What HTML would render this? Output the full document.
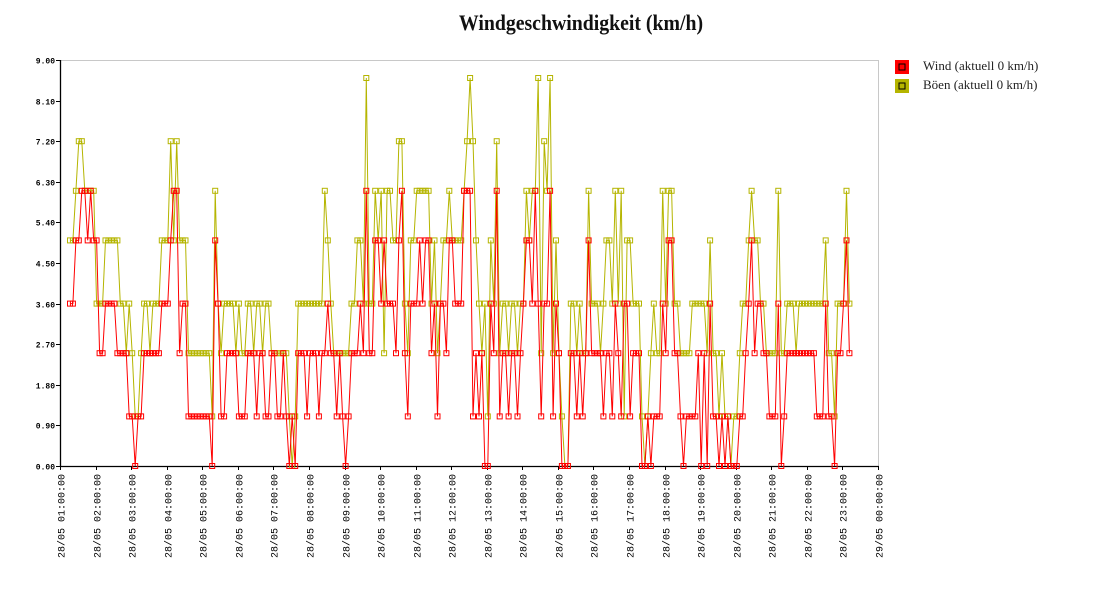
<!DOCTYPE html>
<html><head><meta charset="utf-8"><style>
html,body{margin:0;padding:0;background:#fff;width:1100px;height:600px;overflow:hidden}
svg{display:block}
</style></head><body>
<svg id="chart" width="1100" height="600" xmlns="http://www.w3.org/2000/svg">
<text x="581" y="30" text-anchor="middle" font-family="Liberation Serif, serif" font-weight="bold" font-size="22" fill="#111" transform="translate(581 0) scale(0.9 1) translate(-581 0)">Windgeschwindigkeit (km/h)</text>
<g>
 <g>
  <rect x="895" y="60" width="14" height="14" fill="#ff0000"/>
  <rect x="899" y="64" width="6" height="6" fill="none" stroke="#000" stroke-width="1"/>
  <text x="923" y="70" font-family="Liberation Serif, serif" font-size="13" fill="#222">Wind (aktuell 0 km/h)</text>
 </g>
 <g>
  <rect x="895" y="79" width="14" height="14" fill="#b5b500"/>
  <rect x="899" y="83" width="6" height="6" fill="none" stroke="#000" stroke-width="1"/>
  <text x="923" y="89" font-family="Liberation Serif, serif" font-size="13" fill="#222">Böen (aktuell 0 km/h)</text>
 </g>
</g>
<g id="axes"></g>
<g id="series"></g>
</svg>
<script>
const yTicks=[0,0.9,1.8,2.7,3.6,4.5,5.4,6.3,7.2,8.1,9.0];
const xTickHours=[1,2,3,4,5,6,7,8,9,10,11,12,13,14,15,16,17,18,19,20,21,22,23,24];
const startHour=1.28;
const stepHours=1/12;
const wind=[
3.6,3.6,5,5,6.1,6.1,5,6.1,5,5,2.5,2.5,
3.6,3.6,3.6,3.6,2.5,2.5,2.5,2.5,1.1,1.1,0,1.1,
1.1,2.5,2.5,2.5,2.5,2.5,2.5,3.6,3.6,3.6,5,6.1,
6.1,2.5,3.6,3.6,1.1,1.1,1.1,1.1,1.1,1.1,1.1,1.1,
0,5,3.6,1.1,1.1,2.5,2.5,2.5,2.5,1.1,1.1,1.1,
2.5,2.5,2.5,1.1,2.5,2.5,1.1,1.1,2.5,2.5,1.1,1.1,
2.5,1.1,0,1.1,0,2.5,2.5,2.5,1.1,2.5,2.5,2.5,
1.1,2.5,2.5,3.6,2.5,2.5,1.1,2.5,1.1,0,1.1,2.5,
2.5,2.5,3.6,2.5,6.1,2.5,2.5,5,5,3.6,5,3.6,
3.6,3.6,2.5,5,6.1,2.5,1.1,3.6,3.6,3.6,5,3.6,
5,5,2.5,3.6,1.1,3.6,3.6,2.5,5,5,3.6,3.6,
3.6,6.1,6.1,6.1,1.1,2.5,1.1,2.5,0,0,3.6,2.5,
6.1,1.1,2.5,2.5,1.1,2.5,2.5,1.1,2.5,3.6,5,5,
3.6,6.1,3.6,1.1,3.6,3.6,6.1,1.1,3.6,2.5,0,0,
0,2.5,2.5,1.1,2.5,1.1,2.5,5,2.5,2.5,2.5,2.5,
1.1,2.5,2.5,1.1,3.6,2.5,1.1,3.6,3.6,1.1,2.5,2.5,
2.5,0,0,1.1,0,1.1,1.1,1.1,3.6,2.5,5,5,
2.5,2.5,1.1,0,1.1,1.1,1.1,1.1,2.5,0,2.5,0,
3.6,1.1,1.1,0,1.1,0,1.1,0,0,0,1.1,1.1,
2.5,3.6,5,2.5,3.6,3.6,2.5,2.5,1.1,1.1,1.1,3.6,
0,1.1,2.5,2.5,2.5,2.5,2.5,2.5,2.5,2.5,2.5,2.5,
1.1,1.1,1.1,3.6,1.1,1.1,0,2.5,2.5,3.6,5,2.5
];
const gusts=[
5,5,6.1,7.2,7.2,6.1,6.1,6.1,6.1,3.6,3.6,3.6,
5,5,5,5,5,3.6,3.6,2.5,3.6,2.5,1.1,1.1,
2.5,3.6,3.6,2.5,3.6,3.6,3.6,5,5,5,7.2,5,
7.2,5,5,5,2.5,2.5,2.5,2.5,2.5,2.5,2.5,2.5,
1.1,6.1,3.6,2.5,3.6,3.6,3.6,3.6,2.5,3.6,2.5,2.5,
3.6,3.6,2.5,3.6,3.6,2.5,3.6,3.6,2.5,2.5,2.5,2.5,
2.5,2.5,1.1,0,1.1,3.6,3.6,3.6,3.6,3.6,3.6,3.6,
3.6,3.6,6.1,5,3.6,2.5,2.5,2.5,2.5,2.5,2.5,3.6,
3.6,5,5,3.6,8.6,3.6,3.6,6.1,5,6.1,2.5,6.1,
6.1,5,5,7.2,7.2,3.6,2.5,5,5,6.1,6.1,6.1,
6.1,6.1,3.6,5,2.5,3.6,5,5,6.1,5,5,5,
5,6.1,7.2,8.6,7.2,5,3.6,2.5,3.6,1.1,5,3.6,
7.2,2.5,3.6,3.6,2.5,3.6,3.6,2.5,3.6,3.6,6.1,5,
6.1,6.1,8.6,2.5,7.2,6.1,8.6,2.5,5,2.5,1.1,0,
0,3.6,3.6,2.5,3.6,2.5,2.5,6.1,3.6,3.6,3.6,2.5,
3.6,5,5,3.6,6.1,3.6,6.1,1.1,5,5,3.6,3.6,
3.6,1.1,0,1.1,2.5,3.6,2.5,2.5,6.1,3.6,6.1,6.1,
3.6,3.6,2.5,2.5,2.5,2.5,3.6,3.6,3.6,3.6,3.6,2.5,
5,2.5,2.5,1.1,2.5,1.1,1.1,0,1.1,1.1,2.5,3.6,
3.6,5,6.1,5,5,3.6,3.6,2.5,2.5,2.5,2.5,6.1,
2.5,2.5,3.6,3.6,3.6,2.5,3.6,3.6,3.6,3.6,3.6,3.6,
3.6,3.6,3.6,5,2.5,2.5,1.1,3.6,3.6,3.6,6.1,3.6
];
const NS='http://www.w3.org/2000/svg';
const X0=60,X1=878,Y0=466,Y1=60;
function xScale(h){return X0+(h-1)/23*(X1-X0);}
function yScale(v){return Y0-v/9*(Y0-Y1);}
function mk(tag,attrs,parent){const e=document.createElementNS(NS,tag);for(const k in attrs)e.setAttribute(k,attrs[k]);parent.appendChild(e);return e;}
const axes=document.getElementById('axes');
mk('line',{x1:X0,y1:Y1+0.5,x2:X1,y2:Y1+0.5,stroke:'#c8c8c8'},axes);
mk('line',{x1:X1+0.5,y1:Y1,x2:X1+0.5,y2:Y0,stroke:'#c8c8c8'},axes);
const yAxis=mk('line',{x1:X0+0.5,y1:Y1,x2:X0+0.5,y2:Y0+1,stroke:'#000','stroke-width':1.3},axes);


const xAxis=mk('line',{x1:X0,y1:Y0+0.5,x2:X1+1,y2:Y0+0.5,stroke:'#000','stroke-width':1.3},axes);


yTicks.forEach(v=>{
  const y=Math.round(yScale(v))+0.5;
  mk('line',{x1:X0-4,y1:y,x2:X0+1,y2:y,stroke:'#000'},axes);
  const t=mk('text',{x:X0-5,y:y+3,'text-anchor':'end','font-family':'Liberation Mono, monospace','font-size':8,'font-weight':'bold',fill:'#000'},axes);
  t.textContent=v.toFixed(2);
  
  
});
xTickHours.forEach(h=>{
  const x=Math.round(xScale(h))+0.5;
  mk('line',{x1:x,y1:Y0,x2:x,y2:Y0+4,stroke:'#000'},axes);
  const day=h>=24?'29/05':'28/05';
  const hh=String(h%24).padStart(2,'0');
  const t=mk('text',{x:0,y:0,'text-anchor':'end','font-family':'Liberation Mono, monospace','font-size':10,fill:'#000',transform:`translate(${x+4},474) rotate(-90)`},axes);
  t.textContent=`${day} ${hh}:00:00`;
  
  
});
const series=document.getElementById('series');
function draw(vals,color,name){
  const g=mk('g',{},series);
  
  
  const pts=vals.map((v,i)=>[xScale(startHour+i*stepHours),yScale(v)]);
  const line=mk('polyline',{points:pts.map(p=>p[0].toFixed(1)+','+p[1].toFixed(1)).join(' '),fill:'none',stroke:color,'stroke-width':1},g);
  
  
  pts.forEach(p=>{
    const r=mk('rect',{x:(p[0]-2.5).toFixed(1),y:(p[1]-2.5).toFixed(1),width:5,height:5,fill:'none',stroke:color,'stroke-width':1},g);
    
    
  });
}
draw(gusts,'#b5b500','gust-series');
draw(wind,'#ff0000','wind-series');
</script>
</body></html>
